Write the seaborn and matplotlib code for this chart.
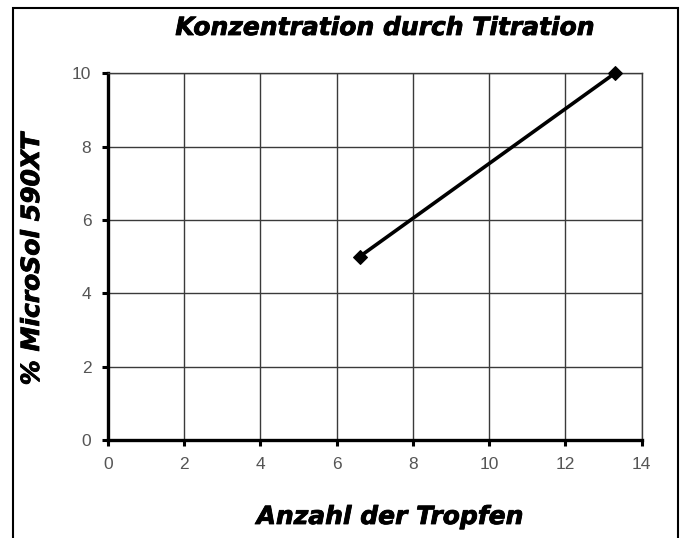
import matplotlib
matplotlib.use("Agg")
import matplotlib.pyplot as plt
import matplotlib.patheffects as pe
import seaborn as sns
import pandas as pd
from matplotlib.patches import Rectangle

# data
drops = [6.6, 13.3]
percent = [5, 10]
x_ticks = [0, 2, 4, 6, 8, 10, 12, 14]
y_ticks = [0, 2, 4, 6, 8, 10]

df = pd.DataFrame({"drops": drops, "percent": percent})

sns.set_style("white")
plt.rcParams["font.family"] = ["Liberation Sans", "DejaVu Sans"]

fig = plt.figure(figsize=(6.9, 5.38), dpi=100)
ax = fig.add_axes([0.1565, 0.182, 0.7735, 0.682])

sns.lineplot(data=df, x="drops", y="percent", ax=ax, color="black",
             linewidth=2.6, marker="D", markersize=7, markeredgecolor="black",
             clip_on=False, zorder=5)

ax.set_xlim(0, 14)
ax.set_ylim(0, 10)
ax.set_xticks(x_ticks)
ax.set_yticks(y_ticks)
ax.grid(True, color="#3a3a3a", linewidth=1.0)
ax.set_axisbelow(True)

for side in ["top", "right"]:
    ax.spines[side].set_color("#3a3a3a")
    ax.spines[side].set_linewidth(1.0)
for side in ["left", "bottom"]:
    ax.spines[side].set_color("black")
    ax.spines[side].set_linewidth(2.4)

ax.tick_params(axis="both", direction="out", length=4, width=2.2,
               bottom=True, left=True, color="black", labelcolor="#555555",
               labelsize=12.5, pad=8)
ax.set_xlabel("")
ax.set_ylabel("")

heavy = dict(family="DejaVu Sans", fontweight="bold", fontstyle="italic",
             color="black", fontsize=18,
             path_effects=[pe.withStroke(linewidth=0.6, foreground="black")])

fig.text(385 / 690, 1 - 28 / 538, "Konzentration durch Titration",
         ha="center", va="center", **heavy)
fig.text(390 / 690, 1 - 517 / 538, "Anzahl der Tropfen",
         ha="center", va="center", **heavy)
fig.text(32 / 690, 1 - 259 / 538, "% MicroSol 590XT", rotation=90,
         ha="center", va="center", **heavy)

# outer chart frame
frame = Rectangle((13 / 690, -0.05), 665 / 690, 1 - 8 / 538 + 0.05,
                  transform=fig.transFigure, fill=False, edgecolor="black",
                  linewidth=1.5, clip_on=False)
fig.patches.append(frame)

fig.savefig("out.png", dpi=100)
